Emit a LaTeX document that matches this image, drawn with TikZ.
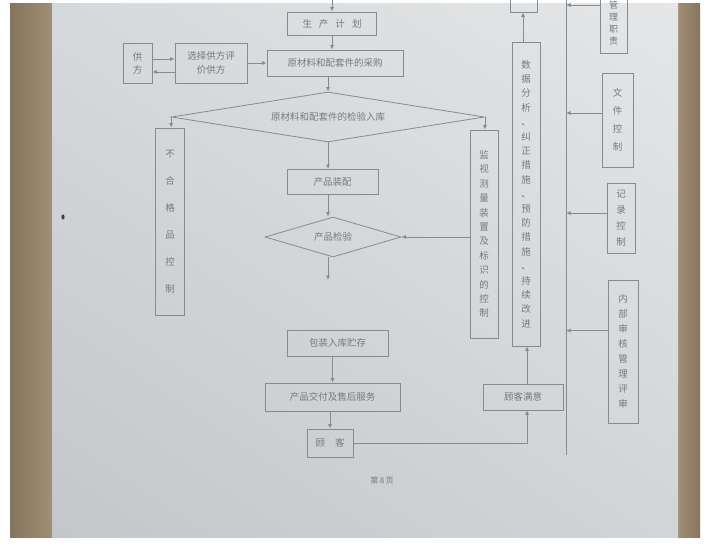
\documentclass[tikz,border=0pt]{standalone}
\usepackage{fontspec}
\newfontfamily\cjk{Noto Sans CJK SC}
\usetikzlibrary{arrows.meta,positioning,calc,shapes.geometric,shadings}
\definecolor{ink}{HTML}{767A7E}
\definecolor{lineC}{HTML}{878B8F}
\definecolor{paperUL}{HTML}{D6D9DB}
\definecolor{paperUR}{HTML}{E4E6E7}
\definecolor{paperLL}{HTML}{C4C7C9}
\definecolor{paperLR}{HTML}{D2D5D7}
\definecolor{wood}{HTML}{A08F74}
\definecolor{woodDark}{HTML}{85755D}
\tikzset{>={Latex[length=4.5pt,width=4pt]},
  box/.style={draw=lineC,line width=0.8pt,inner sep=1pt,text=ink,align=center,
    font=\cjk\fontsize{9.5}{14}\selectfont},
  vbox/.style={box,minimum width=28pt},
  dia/.style={diamond,draw=lineC,line width=0.8pt,inner sep=0pt,text=ink,
    font=\cjk\fontsize{9.5}{14}\selectfont},
  pagelab/.style={text=ink,font=\cjk\fontsize{8}{10}\selectfont},
  link/.style={->,lineC,line width=0.8pt},
  plain/.style={lineC,line width=0.8pt}}

\begin{document}
\begin{tikzpicture}[x=1pt,y=-1pt]
\useasboundingbox (0,0) rectangle (708,546);
\fill[white] (0,0) rectangle (708,546);
\shade[left color=woodDark,right color=wood] (10,3) rectangle (52,537);
\shade[left color=wood,right color=woodDark] (678,3) rectangle (700,537);
\shade[upper left=paperUL,upper right=paperUR,lower left=paperLL,lower right=paperLR] (52,3) rectangle (678,537);
\fill[black!75] (63,217) ellipse (1.6 and 2.6);
% main column
\coordinate (topin) at (332,-5);
\node[box,minimum width=89pt,minimum height=23pt] (plan) at (332,23.5) {生\hspace{7pt}产\hspace{7pt}计\hspace{7pt}划};
\node[box,minimum width=29pt,minimum height=40pt,font=\cjk\fontsize{9.5}{13}\selectfont] (sup) at (137.5,63) {供\\方};
\node[box,minimum width=72pt,minimum height=40pt] (sel) at (211,63) {选择供方评\\价供方};
\node[box,minimum width=136pt,minimum height=26pt] (buy) at (335,63) {原材料和配套件的采购};
\node[dia,aspect=6.26,minimum width=313pt,minimum height=50pt] (chk1) at (328,117) {原材料和配套件的检验入库};
\node[vbox,minimum width=29pt,minimum height=187pt,font=\cjk\fontsize{9.5}{27}\selectfont] (ncr) at (170,221.5) {不\\合\\格\\品\\控\\制};
\node[vbox,minimum height=208pt,font=\cjk\fontsize{9.5}{14.4}\selectfont] (mon) at (484,234) {监\\视\\测\\量\\装\\置\\及\\标\\识\\的\\控\\制};
\node[box,minimum width=91pt,minimum height=25pt] (asm) at (332.5,182) {产品装配};
\node[dia,aspect=3.4,minimum width=136pt,minimum height=40pt] (chk2) at (333,237) {产品检验};
\coordinate (c2end) at (333,280);
\node[box,minimum width=101pt,minimum height=26pt] (pack) at (337.5,343) {包装入库贮存};
\node[box,minimum width=135pt,minimum height=28pt] (deliv) at (332.5,397) {产品交付及售后服务};
\node[box,minimum width=46pt,minimum height=28pt] (cust) at (330,443) {顾\hspace{10pt}客};
\node[box,minimum width=80pt,minimum height=26pt] (sat) at (523,397) {顾客满意};
\node[vbox,minimum height=304pt,font=\cjk\fontsize{9.5}{14.4}\selectfont] (ana) at (526,194) {数\\据\\分\\析\\、\\纠\\正\\措\\施\\、\\预\\防\\措\\施\\、\\持\\续\\改\\进};
\node[vbox,minimum width=27pt,minimum height=32pt] (topB) at (523.5,-4) {};
\node[pagelab] (pg) at (382,480) {第\,8\,页};
% right column
\coordinate (spineT) at (566,-2);
\coordinate (spineB) at (566,455);
\node[vbox,minimum width=27pt,minimum height=60pt,font=\cjk\fontsize{9}{12}\selectfont] (rTop) at (613.5,23) {管\\理\\职\\责};
\node[vbox,minimum width=31pt,minimum height=94pt,font=\cjk\fontsize{9.5}{18}\selectfont] (doc) at (617.5,120) {文\\件\\控\\制};
\node[vbox,minimum height=70pt,font=\cjk\fontsize{9.5}{16}\selectfont] (rec) at (621,218) {记\\录\\控\\制};
\node[vbox,minimum width=30pt,minimum height=143pt,font=\cjk\fontsize{9.5}{15}\selectfont] (aud) at (623,351.5) {内\\部\\审\\核\\管\\理\\评\\审};
% connectors
\draw[link] (topin) -- (plan.north);
\draw[link] (plan.south) -- (buy.north -| plan.south);
\draw[link] ([yshift=4pt]sup.east) -- ([yshift=4pt]sel.west);
\draw[link] ([yshift=-9pt]sel.west) -- ([yshift=-9pt]sup.east);
\draw[link] (sel.east) -- (buy.west);
\draw[link] (buy.south -| chk1.north) -- (chk1.north);
\draw[link] (chk1.west) -- (chk1.west |- ncr.north);
\draw[link] (chk1.east) -- (chk1.east |- mon.north);
\draw[link] (chk1.south) -- (chk1.south |- asm.north);
\draw[link] (chk1.south |- asm.south) -- (chk1.south |- chk2.north);
\draw[link] (chk1.south |- chk2.south) -- (chk1.south |- c2end);
\draw[link] (mon.west |- chk2.east) -- (chk2.east);
\draw[link] (pack.south -| deliv.north) -- (deliv.north);
\draw[link] (deliv.south -| cust.north) -- (cust.north);
\draw[link] (cust.east) -| ([xshift=4pt]sat.south);
\draw[link] ([xshift=4pt]sat.north) -- ([xshift=4pt]sat.north |- ana.south);
\draw[link] ([xshift=-3pt]ana.north) -- ([xshift=-3pt]ana.north |- topB.south);
\draw[plain] (spineT) -- (spineB);
\draw[link] ([yshift=18pt]rTop.west) -- ([yshift=18pt]rTop.west -| spineT);
\draw[link] ([yshift=7pt]doc.west) -- ([yshift=7pt]doc.west -| spineT);
\draw[link] ([yshift=5pt]rec.west) -- ([yshift=5pt]rec.west -| spineT);
\draw[link] ([yshift=21pt]aud.west) -- ([yshift=21pt]aud.west -| spineT);
\end{tikzpicture}
\end{document}
